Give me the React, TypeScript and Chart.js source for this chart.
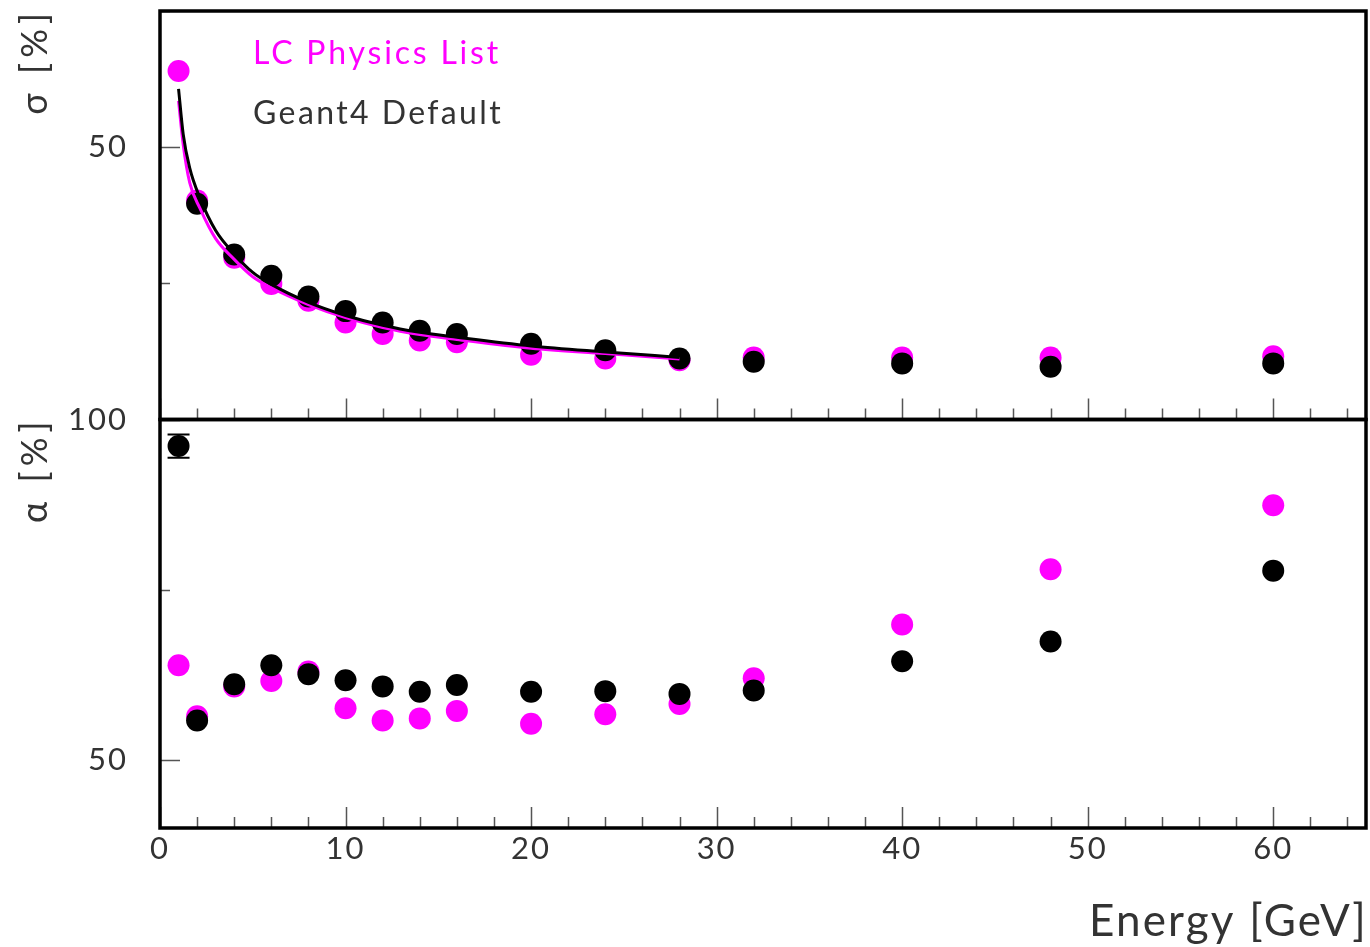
import React, { useEffect, useRef } from 'react';
import { Chart, registerables } from 'chart.js';

Chart.register(...registerables);

// ---------- data ----------
const energies = [1, 2, 4, 6, 8, 10, 12, 14, 16, 20, 24, 28, 32, 40, 48, 60];

const seriesLabels = ['LC Physics List', 'Geant4 Default'];

// sigma [%] (top panel)
const sigmaLC = [64.0, 40.2, 29.7, 24.9, 21.8, 17.8, 15.7, 14.5, 14.2, 11.9, 11.2, 10.9, 11.4, 11.4, 11.4, 11.6];
const sigmaG4 = [null, 39.6, 30.3, 26.4, 22.6, 19.9, 17.8, 16.3, 15.7, 13.9, 12.7, 11.2, 10.6, 10.3, 9.7, 10.3];

// fitted curves
const fitEnergies = [1, 1.25, 1.6, 2.15, 3, 4, 5, 6, 8, 10, 12, 14, 16, 20, 24, 28];
const fitG4 = [60.7, 52.4, 46.2, 40.7, 34.7, 30.4, 27.0, 24.8, 21.5, 19.1, 17.3, 16.0, 15.1, 13.5, 12.4, 11.4];
const fitLC = [58.5, 50.5, 43.5, 38.8, 33.2, 29.4, 26.2, 24.2, 21.1, 18.7, 16.9, 15.6, 14.7, 13.1, 12.1, 11.1];

// alpha [%] (bottom panel)
const alphaLC = [63.9, 56.4, 60.8, 61.6, 63.0, 57.6, 55.8, 56.1, 57.2, 55.3, 56.7, 58.2, 62.0, 69.9, 78.0, 87.4];
const alphaG4 = [96.1, 55.8, 61.1, 63.9, 62.6, 61.7, 60.8, 60.0, 61.0, 60.0, 60.1, 59.7, 60.2, 64.5, 67.4, 77.8];
const alphaG4Err = [1.7, 0, 0, 0, 0, 0, 0, 0, 0, 0, 0, 0, 0, 0, 0, 0];

// ticks
const xTickLabels = [0, 10, 20, 30, 40, 50, 60];
const sigmaTickLabels = [50];
const alphaTickLabels = [50, 100];

const axisTitles = { x: 'Energy [GeV]', sigma: 'σ [%]', alpha: 'α [%]' };

// ---------- styles ----------
const MAGENTA = '#ff00ff';
const BLACK = '#000000';
const TEXT = '#333333';
const FONT = 'Lato, "DejaVu Sans", sans-serif';

const toXY = (xs: number[], ys: (number | null)[]) =>
  xs.map((x, i) => ({ x, y: ys[i] as number })).filter((p) => p.y !== null);

const panelPlugin = {
  id: 'panels',
  beforeDraw(chart: any) {
    (chart.ctx as any).letterSpacing = '2px';
  },
  afterDatasetsDraw(chart: any) {
    const ctx = chart.ctx as CanvasRenderingContext2D;
    const xs = chart.scales.x;
    const ySig = chart.scales.ySigma;
    const yAl = chart.scales.yAlpha;
    const panels = [ySig, yAl];

    ctx.save();
    // error bars
    ctx.strokeStyle = BLACK;
    ctx.lineWidth = 2;
    alphaG4Err.forEach((e, i) => {
      if (!e) return;
      const px = xs.getPixelForValue(energies[i]);
      const pTop = yAl.getPixelForValue(alphaG4[i] + e);
      const pBot = yAl.getPixelForValue(alphaG4[i] - e);
      ctx.beginPath();
      ctx.moveTo(px, pTop); ctx.lineTo(px, pBot);
      ctx.moveTo(px - 11, pTop); ctx.lineTo(px + 11, pTop);
      ctx.moveTo(px - 11, pBot); ctx.lineTo(px + 11, pBot);
      ctx.stroke();
    });

    // tick marks (inward)
    ctx.strokeStyle = '#555';
    ctx.lineWidth = 1.5;
    ctx.beginPath();
    for (const ys of panels) {
      for (let v = xs.min; v <= xs.max; v += 2) {
        const px = Math.round(xs.getPixelForValue(v)) + 0.5;
        const len = v % 10 === 0 ? 21 : 11;
        ctx.moveTo(px, ys.bottom);
        ctx.lineTo(px, ys.bottom - len);
      }
      for (let v = Math.ceil(ys.min / 25) * 25; v <= ys.max; v += 25) {
        const py = Math.round(ys.getPixelForValue(v)) + 0.5;
        const len = v % 50 === 0 ? 20 : 10;
        ctx.moveTo(xs.left, py);
        ctx.lineTo(xs.left + len, py);
      }
    }
    ctx.stroke();

    // frames
    ctx.strokeStyle = BLACK;
    ctx.lineWidth = 3.5;
    for (const ys of panels) {
      ctx.strokeRect(xs.left, ys.top, xs.right - xs.left, ys.bottom - ys.top);
    }

    // legend texts
    ctx.textAlign = 'left';
    ctx.textBaseline = 'middle';
    ctx.font = `32px ${FONT}`;
    (ctx as any).letterSpacing = '2.8px';
    ctx.fillStyle = MAGENTA;
    ctx.fillText(seriesLabels[0], 253, 54);
    ctx.fillStyle = TEXT;
    (ctx as any).letterSpacing = '2.4px';
    ctx.fillText(seriesLabels[1], 253, 114);

    // x axis title
    ctx.font = `44px ${FONT}`;
    (ctx as any).letterSpacing = '2.2px';
    ctx.textAlign = 'right';
    ctx.fillText(axisTitles.x, xs.right + 2, 922);

    // y axis titles (rotated)
    ctx.font = `36px ${FONT}`;
    (ctx as any).letterSpacing = '5px';
    ctx.fillStyle = TEXT;
    ctx.textAlign = 'right';
    const drawV = (txt: string, x: number, y: number) => {
      ctx.save();
      ctx.translate(x, y);
      ctx.rotate(-Math.PI / 2);
      ctx.fillText(txt, 0, 0);
      ctx.restore();
    };
    drawV(axisTitles.sigma, 35, ySig.top - 3);
    drawV(axisTitles.alpha, 35, yAl.top - 3);
    ctx.restore();
  },
  afterDraw(chart: any) {
    (chart.ctx as any).letterSpacing = '0px';
  },
};

export default function App() {
  const ref = useRef<HTMLCanvasElement>(null);
  useEffect(() => {
    if (!ref.current) return;
    const tickFont = { family: FONT, size: 31 };
    const zeroPadV = (s: any) => {
      s.width = 160;
      s.paddingTop = 0;
      s.paddingBottom = 0;
    };
    const chart = new Chart(ref.current, {
      type: 'scatter',
      data: {
        datasets: [
          {
            label: 'fit G4',
            data: toXY(fitEnergies, fitG4),
            showLine: true,
            borderColor: BLACK,
            borderWidth: 3,
            pointRadius: 0,
            cubicInterpolationMode: 'monotone',
            yAxisID: 'ySigma',
          },
          {
            label: 'fit LC',
            data: toXY(fitEnergies, fitLC),
            showLine: true,
            borderColor: MAGENTA,
            borderWidth: 3,
            pointRadius: 0,
            cubicInterpolationMode: 'monotone',
            yAxisID: 'ySigma',
          },
          {
            label: seriesLabels[1] + ' σ',
            data: toXY(energies, sigmaG4),
            backgroundColor: BLACK,
            borderWidth: 0,
            pointRadius: 11,
            yAxisID: 'ySigma',
          },
          {
            label: seriesLabels[1] + ' α',
            data: toXY(energies, alphaG4),
            backgroundColor: BLACK,
            borderWidth: 0,
            pointRadius: 11,
            yAxisID: 'yAlpha',
          },
          {
            label: seriesLabels[0] + ' σ',
            data: toXY(energies, sigmaLC),
            backgroundColor: MAGENTA,
            borderWidth: 0,
            pointRadius: 11,
            yAxisID: 'ySigma',
          },
          {
            label: seriesLabels[0] + ' α',
            data: toXY(energies, alphaLC),
            backgroundColor: MAGENTA,
            borderWidth: 0,
            pointRadius: 11,
            yAxisID: 'yAlpha',
          },
        ],
      } as any,
      options: {
        animation: false,
        responsive: false,
        maintainAspectRatio: false,
        layout: { autoPadding: false, padding: { top: 11, right: 4, left: 0, bottom: 0 } },
        plugins: {
          legend: { display: false },
          tooltip: { enabled: false },
        },
        scales: {
          x: {
            type: 'linear',
            position: 'bottom',
            min: 0,
            max: 65,
            afterBuildTicks: (s: any) => {
              s.ticks = xTickLabels.map((v) => ({ value: v }));
            },
            afterFit: (s: any) => {
              s.height = 119;
              s.paddingLeft = 0;
              s.paddingRight = 0;
            },
            grid: { display: false, drawTicks: false },
            border: { display: false },
            ticks: { font: tickFont, color: TEXT, padding: 2, maxRotation: 0, autoSkip: false },
            title: { display: false },
          },
          yAlpha: {
            type: 'linear',
            position: 'left',
            stack: 'panels',
            stackWeight: 1,
            min: 40,
            max: 100,
            afterBuildTicks: (s: any) => {
              s.ticks = alphaTickLabels.map((v) => ({ value: v }));
            },
            afterFit: zeroPadV,
            grid: { display: false, drawTicks: false },
            border: { display: false },
            ticks: { font: tickFont, color: TEXT, padding: 32 },
          },
          ySigma: {
            type: 'linear',
            position: 'left',
            stack: 'panels',
            stackWeight: 1,
            min: 0,
            max: 75,
            afterBuildTicks: (s: any) => {
              s.ticks = sigmaTickLabels.map((v) => ({ value: v }));
            },
            afterFit: zeroPadV,
            grid: { display: false, drawTicks: false },
            border: { display: false },
            ticks: { font: tickFont, color: TEXT, padding: 32 },
          },
        },
      } as any,
      plugins: [panelPlugin],
    });
    return () => chart.destroy();
  }, []);

  return (
    <div style={{ position: 'absolute', left: 0, top: 0, width: 1370, height: 947, background: '#fff' }}>
      <canvas ref={ref} width={1370} height={947} style={{ display: 'block', width: 1370, height: 947 }} />
    </div>
  );
}
